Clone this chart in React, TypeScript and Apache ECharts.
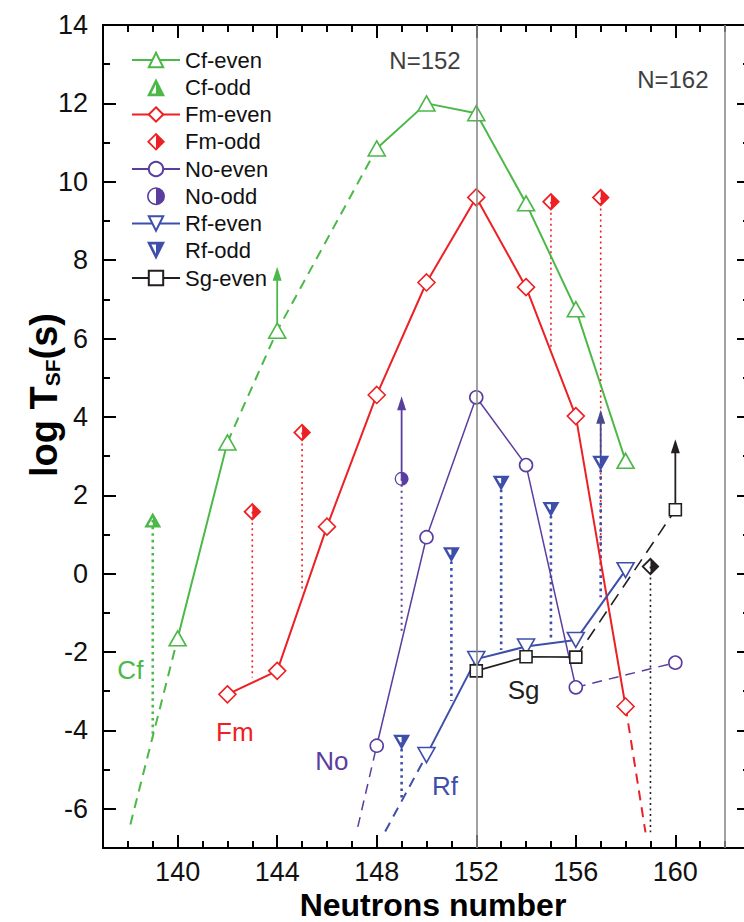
import { useEffect, useRef } from 'react';
import * as echarts from 'echarts';

type P = [number, number];

// ---------------- data ----------------
const xMajorTicks = [140, 144, 148, 152, 156, 160];
const xMinorTicks = [138, 139, 141, 142, 143, 145, 146, 147, 149, 150, 151, 153, 154, 155, 157, 158, 159, 161, 162];
const yMajorTicks = [-6, -4, -2, 0, 2, 4, 6, 8, 10, 12, 14];
const yMinorTicks = [-5, -3, -1, 1, 3, 5, 7, 9, 11, 13];
const magicNumbers = [152, 162];

// Cf
const cfEvenN = [140, 142, 144, 148, 150, 152, 154, 156, 158];
const cfEvenLog = [-1.65, 3.35, 6.2, 10.85, 12.0, 11.75, 9.45, 6.75, 2.88];
const cfSegments = 'sddsssss';
const cfHead: P = [138.1, -6.4];
const cfOddN = [139];
const cfOddLog = [1.37];
const cfOddBase = [-4.2];
const cfLimit = { n: 144, from: 6.2, to: 7.6 };

// Fm
const fmEvenN = [142, 144, 146, 148, 150, 152, 154, 156, 158];
const fmEvenLog = [-3.08, -2.48, 1.2, 4.56, 7.43, 9.6, 7.31, 4.02, -3.39];
const fmSegments = 'ssssssss';
const fmTail: P = [158.8, -6.6];
const fmOddN = [143, 145, 155, 157];
const fmOddLog = [1.58, 3.6, 9.49, 9.6];
const fmOddBase = [-2.65, -0.4, 5.75, 0.3];

// No
const noEvenN = [148, 150, 152, 154, 156, 160];
const noEvenLog = [-4.39, 0.93, 4.5, 2.77, -2.9, -2.27];
const noSegments = 'ssssd';
const noHead: P = [147.24, -6.46];
const noOddN = [149];
const noOddLog = [2.42];
const noOddBase = [-1.55];
const noLimit = { n: 149, from: 2.42, to: 4.3 };

// Rf
const rfEvenN = [150, 152, 154, 156, 158];
const rfEvenLog = [-4.63, -2.18, -1.86, -1.69, 0.09];
const rfSegments = 'ssss';
const rfHead: P = [148.34, -6.58];
const rfOddN = [149, 151, 153, 155, 157];
const rfOddLog = [-4.3, 0.48, 2.31, 1.64, 2.82];
const rfOddBase = [-5.75, -3.25, -1.95, -1.72, -0.6];
const rfLimit = { n: 157, from: 2.82, to: 3.95 };

// Sg
const sgEvenN = [152, 154, 156, 160];
const sgEvenLog = [-2.48, -2.12, -2.13, 1.63];
const sgSegments = 'ssd';
const sgOddN = [159];
const sgOddLog = [0.18];
const sgOddBase = [-6.6];
const sgLimit = { n: 160, from: 1.63, to: 3.2 };

// annotation texts (data coordinates)
const curveLabelNames = ['Cf', 'Fm', 'No', 'Rf', 'Sg'];
const curveLabelN = [138.1, 142.3, 146.2, 150.74, 153.9];
const curveLabelLog = [-2.46, -4.05, -4.77, -5.43, -2.97];
const magicLabelNames = ['N=152', 'N=162'];
const magicLabelN = [149.94, 159.9];
const magicLabelLog = [13.09, 12.6];

// ---------------- styles ----------------
const GREEN = '#4cb848';
const RED = '#ed2024';
const PURPLE = '#5b3d9f';
const BLUE = '#3e4fab';
const BLACK = '#231f20';
const GREY = '#8a8a8a';
const FONT = '"Liberation Sans", Arial, Helvetica, sans-serif';

const SYM_TRI_DOWN = 'path://M0,0L20,0L10,20Z';
const SYM_TRI_UP_HALF = 'path://M10,0L20,20L10,20ZM10,0L0,20L10,20L10,17L4.85,17L10,6.7Z';
const SYM_TRI_DOWN_HALF = 'path://M10,0L20,0L10,20ZM10,0L0,0L10,20L10,13.3L4.85,3L10,3Z';
const SYM_DIAMOND_HALF = 'path://M10,0L20,10L10,20ZM10,0L0,10L10,20L10,17.2L2.8,10L10,2.8Z';
const SYM_CIRCLE_HALF = 'path://M10,0A10,10 0 0 1 10,20ZM10,0A10,10 0 0 0 10,20L10,18.2A8.2,8.2 0 0 1 10,1.8Z';
const SYM_ARROW = 'path://M5,0L10,16L0,16Z';

function splitLines(ns: number[], logs: number[], segs: string, head?: P, tail?: P) {
  const solid: any[] = [];
  ns.forEach((n, i) => {
    if (i > 0 && segs[i - 1] === 'd') solid.push([n, '-']);
    solid.push([n, logs[i]]);
  });
  const runs: P[][] = [];
  if (head) runs.push([head, [ns[0], logs[0]]]);
  let cur: P[] | null = null;
  for (let i = 0; i < ns.length - 1; i++) {
    if (segs[i] === 'd') {
      if (!cur) {
        cur = [[ns[i], logs[i]]];
        runs.push(cur);
      }
      cur.push([ns[i + 1], logs[i + 1]]);
    } else cur = null;
  }
  if (tail) runs.push([[ns[ns.length - 1], logs[logs.length - 1]], tail]);
  const dashed: any[] = [];
  runs.forEach((r, k) => {
    if (k > 0) dashed.push([r[0][0], '-']);
    r.forEach((p) => dashed.push(p));
  });
  return { solid, dashed };
}

function dropData(ns: number[], tops: number[], bases: number[]) {
  const d: any[] = [];
  ns.forEach((n, i) => {
    if (i > 0) d.push([n, '-']);
    d.push([n, tops[i]]);
    d.push([n, bases[i]]);
  });
  return d;
}

const noEmph = { disabled: true };

function elementSeries(opts: {
  el: string;
  color: string;
  evenN: number[];
  evenLog: number[];
  segs: string;
  head?: P;
  tail?: P;
  evenSymbol: string;
  evenSize: any;
  lineWidth: number;
  dash: number[];
  oddN: number[];
  oddLog: number[];
  oddBase: number[];
  oddSymbol: string;
  oddSize: any;
  dropWidth: number;
  dropDash: number[];
  limit?: { n: number; from: number; to: number };
  arrowColor?: string;
}) {
  const { solid, dashed } = splitLines(opts.evenN, opts.evenLog, opts.segs, opts.head, opts.tail);
  const arrowColor = opts.arrowColor || opts.color;
  const out: any[] = [];
  out.push({
    type: 'line',
    name: opts.el + '-drop',
    data: dropData(opts.oddN, opts.oddLog, opts.oddBase),
    symbol: 'none',
    silent: true,
    z: 2,
    lineStyle: { color: opts.color, width: opts.dropWidth, type: opts.dropDash },
    emphasis: noEmph,
  });
  if (opts.limit) {
    out.push({
      type: 'line',
      name: opts.el + '-limit',
      data: [
        [opts.limit.n, opts.limit.from],
        [opts.limit.n, opts.limit.to],
      ],
      symbol: 'none',
      silent: true,
      z: 2,
      lineStyle: { color: arrowColor, width: 1.8, type: 'solid' },
      emphasis: noEmph,
    });
    out.push({
      type: 'scatter',
      name: opts.el + '-limit-head',
      data: [[opts.limit.n, opts.limit.to]],
      symbol: SYM_ARROW,
      symbolSize: [9, 14],
      symbolOffset: [0, -2],
      silent: true,
      z: 2,
      itemStyle: { color: arrowColor, opacity: 1 },
      emphasis: noEmph,
    });
  }
  if (dashed.length) {
    out.push({
      type: 'line',
      name: opts.el + '-ext',
      data: dashed,
      symbol: 'none',
      silent: true,
      z: 2,
      lineStyle: { color: opts.color, width: opts.lineWidth, type: opts.dash },
      emphasis: noEmph,
    });
  }
  out.push({
    type: 'line',
    name: opts.el + '-even',
    data: solid,
    symbol: opts.evenSymbol,
    symbolSize: opts.evenSize,
    showSymbol: true,
    silent: true,
    z: 3,
    itemStyle: { color: '#ffffff', borderColor: opts.color, borderWidth: 1.6 },
    lineStyle: { color: opts.color, width: opts.lineWidth },
    emphasis: noEmph,
  });
  out.push({
    type: 'scatter',
    name: opts.el + '-odd',
    data: opts.oddN.map((n, i) => [n, opts.oddLog[i]]),
    symbol: opts.oddSymbol,
    symbolSize: opts.oddSize,
    silent: true,
    z: 4,
    itemStyle: { color: opts.color, opacity: 1 },
    emphasis: noEmph,
  });
  return out;
}

function buildOption(): any {
  const axisLine = { show: true, onZero: false, lineStyle: { color: '#000', width: 2 } };
  const tickStyle = { color: '#000', width: 2 };
  const xBase = { type: 'value', min: 137, max: 163, splitLine: { show: false }, axisLine };
  const yBase = { type: 'value', min: -7, max: 14, splitLine: { show: false }, axisLine };
  const labelStyle = { color: '#111', fontSize: 27, fontFamily: FONT };

  const series: any[] = [
    {
      type: 'scatter',
      name: 'annotations',
      silent: true,
      z: 1,
      symbolSize: 0,
      itemStyle: { opacity: 1 },
      data: [
        ...curveLabelNames.map((name, i) => ({
          name,
          value: [curveLabelN[i], curveLabelLog[i]],
          label: { color: [GREEN, RED, PURPLE, BLUE, BLACK][i], fontSize: 26, opacity: 1 },
        })),
        ...magicLabelNames.map((name, i) => ({
          name,
          value: [magicLabelN[i], magicLabelLog[i]],
          label: { color: '#3f3f3f', fontSize: 24, opacity: 1 },
        })),
      ],
      label: { show: true, position: 'inside', formatter: '{b}', fontFamily: FONT, opacity: 1 },
      emphasis: noEmph,
      markLine: {
        silent: true,
        symbol: ['none', 'none'],
        label: { show: false },
        lineStyle: { color: GREY, width: 1.6, type: 'solid', opacity: 1 },
        emphasis: noEmph,
        data: magicNumbers.map((m) => ({ xAxis: m })),
      },
    },
    ...elementSeries({
      el: 'Cf', color: GREEN, evenN: cfEvenN, evenLog: cfEvenLog, segs: cfSegments, head: cfHead,
      evenSymbol: 'triangle', evenSize: [17, 15], lineWidth: 2, dash: [10, 7],
      oddN: cfOddN, oddLog: cfOddLog, oddBase: cfOddBase, oddSymbol: SYM_TRI_UP_HALF, oddSize: [17, 15],
      dropWidth: 2.6, dropDash: [2.6, 4], limit: cfLimit,
    }),
    ...elementSeries({
      el: 'Fm', color: RED, evenN: fmEvenN, evenLog: fmEvenLog, segs: fmSegments, tail: fmTail,
      evenSymbol: 'diamond', evenSize: 17, lineWidth: 2, dash: [10, 7],
      oddN: fmOddN, oddLog: fmOddLog, oddBase: fmOddBase, oddSymbol: SYM_DIAMOND_HALF, oddSize: 18,
      dropWidth: 1.6, dropDash: [2, 3.5],
    }),
    ...elementSeries({
      el: 'No', color: PURPLE, evenN: noEvenN, evenLog: noEvenLog, segs: noSegments, head: noHead,
      evenSymbol: 'circle', evenSize: 13, lineWidth: 1.5, dash: [10, 7],
      oddN: noOddN, oddLog: noOddLog, oddBase: noOddBase, oddSymbol: SYM_CIRCLE_HALF, oddSize: 14,
      dropWidth: 2, dropDash: [2, 4], limit: noLimit,
    }),
    ...elementSeries({
      el: 'Rf', color: BLUE, evenN: rfEvenN, evenLog: rfEvenLog, segs: rfSegments, head: rfHead,
      evenSymbol: SYM_TRI_DOWN, evenSize: [17, 15], lineWidth: 2, dash: [10, 7],
      oddN: rfOddN, oddLog: rfOddLog, oddBase: rfOddBase, oddSymbol: SYM_TRI_DOWN_HALF, oddSize: [17, 15],
      dropWidth: 2.6, dropDash: [2.6, 4], limit: rfLimit, arrowColor: '#474b8c',
    }),
    ...elementSeries({
      el: 'Sg', color: BLACK, evenN: sgEvenN, evenLog: sgEvenLog, segs: sgSegments,
      evenSymbol: 'rect', evenSize: 12, lineWidth: 1.6, dash: [13, 8],
      oddN: sgOddN, oddLog: sgOddLog, oddBase: sgOddBase, oddSymbol: SYM_DIAMOND_HALF, oddSize: 18,
      dropWidth: 1.6, dropDash: [2, 3.5], limit: sgLimit,
    }),
  ];

  return {
    animation: false,
    backgroundColor: '#ffffff',
    textStyle: { fontFamily: FONT },
    grid: { left: 103, top: 25, width: 647, height: 823, containLabel: false, outerBoundsMode: 'none' },
    legend: {
      show: true,
      orient: 'vertical',
      left: 131,
      top: 49,
      padding: 0,
      itemWidth: 48,
      itemHeight: 18,
      itemGap: 5.25,
      selectedMode: false,
      textStyle: { fontSize: 22, color: '#111', fontFamily: FONT, lineHeight: 21 },
      data: ['Cf-even', 'Cf-odd', 'Fm-even', 'Fm-odd', 'No-even', 'No-odd', 'Rf-even', 'Rf-odd', 'Sg-even'],
    },
    xAxis: [
      {
        ...xBase, position: 'bottom',
        axisTick: { show: true, inside: true, length: 13, customValues: xMajorTicks, lineStyle: tickStyle },
        axisLabel: { show: true, margin: 10, customValues: xMajorTicks, ...labelStyle },
      },
      {
        ...xBase, position: 'bottom',
        axisTick: { show: true, inside: true, length: 7, customValues: xMinorTicks, lineStyle: tickStyle },
        axisLabel: { show: false },
      },
      {
        ...xBase, position: 'top',
        axisTick: { show: true, inside: true, length: 13, customValues: xMajorTicks, lineStyle: tickStyle },
        axisLabel: { show: false },
      },
      {
        ...xBase, position: 'top',
        axisTick: { show: true, inside: true, length: 7, customValues: xMinorTicks, lineStyle: tickStyle },
        axisLabel: { show: false },
      },
    ],
    yAxis: [
      {
        ...yBase, position: 'left',
        axisTick: { show: true, inside: true, length: 13, customValues: yMajorTicks, lineStyle: tickStyle },
        axisLabel: { show: true, margin: 15, customValues: yMajorTicks, ...labelStyle },
      },
      {
        ...yBase, position: 'left',
        axisTick: { show: true, inside: true, length: 7, customValues: yMinorTicks, lineStyle: tickStyle },
        axisLabel: { show: false },
      },
      {
        ...yBase, position: 'right',
        axisTick: { show: true, inside: true, length: 13, customValues: yMajorTicks, lineStyle: tickStyle },
        axisLabel: { show: false },
      },
      {
        ...yBase, position: 'right',
        axisTick: { show: true, inside: true, length: 7, customValues: yMinorTicks, lineStyle: tickStyle },
        axisLabel: { show: false },
      },
    ],
    graphic: [
      {
        type: 'text',
        x: 433,
        y: 905,
        silent: true,
        style: {
          text: 'Neutrons number',
          fontSize: 32,
          fontWeight: 'bold',
          fontFamily: FONT,
          fill: '#000',
          align: 'center',
          verticalAlign: 'middle',
          textAlign: 'center',
          textVerticalAlign: 'middle',
        },
      },
      {
        type: 'text',
        x: 43,
        y: 395,
        rotation: Math.PI / 2,
        silent: true,
        style: {
          text: '{b|log T}{s|SF}{b|(s)}',
          fontFamily: FONT,
          fill: '#000',
          align: 'center',
          verticalAlign: 'middle',
          textAlign: 'center',
          textVerticalAlign: 'middle',
          rich: {
            b: { fontSize: 38, fontWeight: 'bold', fontFamily: FONT, fill: '#000', lineHeight: 40, verticalAlign: 'bottom' },
            s: { fontSize: 21, fontWeight: 'bold', fontFamily: FONT, fill: '#000', lineHeight: 17, verticalAlign: 'bottom' },
          },
        },
      },
    ],
    series,
  };
}

export default function App() {
  const ref = useRef<HTMLDivElement>(null);
  useEffect(() => {
    if (!ref.current) return;
    const chart = echarts.init(ref.current, null, { renderer: 'svg' });
    chart.setOption(buildOption());
    return () => chart.dispose();
  }, []);
  return (
    <div
      ref={ref}
      style={{ position: 'absolute', left: 0, top: 0, width: 744, height: 922, background: '#fff' }}
    />
  );
}
